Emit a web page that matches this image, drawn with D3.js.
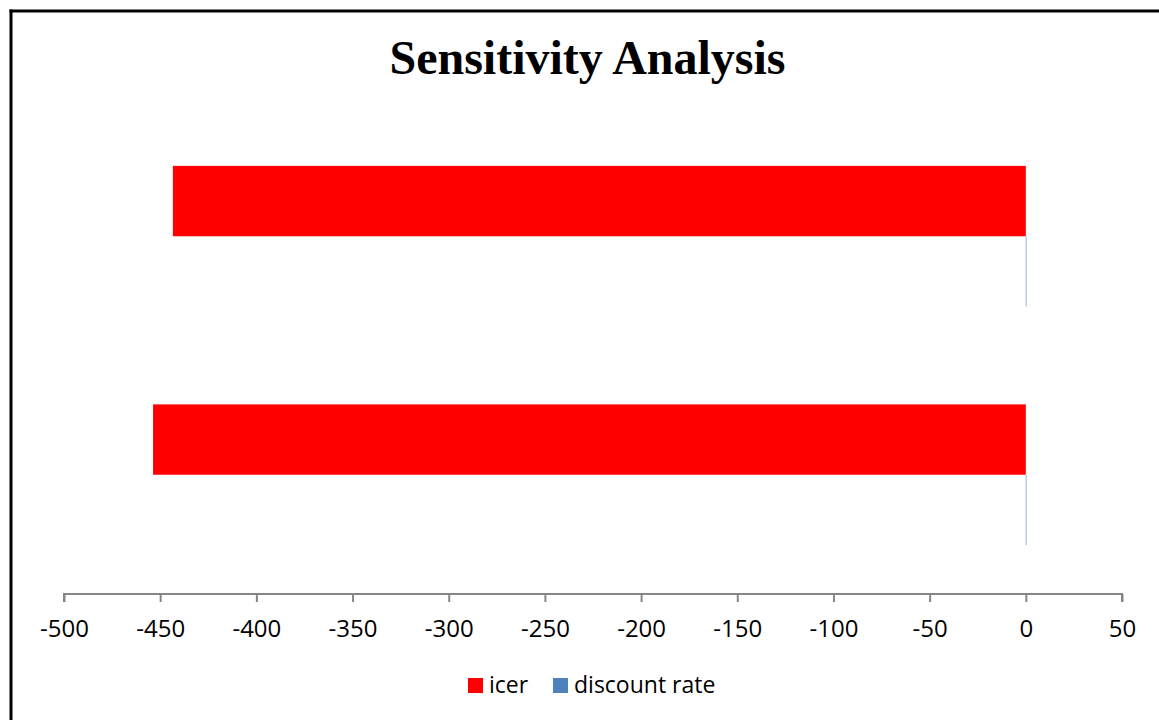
<!DOCTYPE html>
<html>
<head>
<meta charset="utf-8">
<script src="https://cdn.jsdelivr.net/npm/d3@7"></script>
<style>
  html, body { margin: 0; padding: 0; background: #fff; }
  svg { display: block; }
</style>
</head>
<body>
<svg id="chart" width="1159" height="720"></svg>
<script>
// ---- data ----
const categories = ["1", "2"];            // bottom to top as drawn
const seriesNames = ["icer", "discount rate"];
const icerValues = [-453.7, -443.4];
const discountValues = [0.3, 0.3];
const tickValues = [-500, -450, -400, -350, -300, -250, -200, -150, -100, -50, 0, 50];
const titleText = "Sensitivity Analysis";
const colors = ["#FF0000", "#4F81BD"];

const svg = d3.select("#chart");

// frame
svg.append("line").attr("x1", 11).attr("x2", 11).attr("y1", 9.5).attr("y2", 720)
  .attr("stroke", "#000").attr("stroke-width", 3);
svg.append("line").attr("x1", 9.5).attr("x2", 1159).attr("y1", 11).attr("y2", 11)
  .attr("stroke", "#000").attr("stroke-width", 3);

// title
svg.append("text")
  .attr("x", 587.5).attr("y", 74)
  .attr("text-anchor", "middle")
  .attr("font-family", "'Liberation Serif', 'Times New Roman', serif")
  .attr("font-weight", "bold")
  .attr("font-size", 48)
  .attr("fill", "#000")
  .text(titleText);

// scales
const x = d3.scaleLinear().domain([-500, 50]).range([64, 1122]);
const y = d3.scaleBand().domain(categories.slice().reverse()).range([117, 594])
  .paddingInner(0.41).paddingOuter(0.205);
const ySub = d3.scaleBand().domain(seriesNames).range([0, y.bandwidth()]);

const rows = categories.map((c, i) => ({ cat: c, vals: [icerValues[i], discountValues[i]] }));

const g = svg.append("g");
rows.forEach(r => {
  r.vals.forEach((v, si) => {
    g.append("rect")
      .attr("x", x(Math.min(0, v)))
      .attr("width", Math.abs(x(v) - x(0)))
      .attr("y", y(r.cat) + ySub(seriesNames[si]))
      .attr("height", ySub.bandwidth())
      .attr("fill", colors[si]);
  });
});

// axis
const axisY = 594;
const axis = d3.axisBottom(x).tickValues(tickValues).tickSize(8).tickPadding(18)
  .tickFormat(d3.format("d"));
const ag = svg.append("g").attr("transform", `translate(0,${axisY})`).call(axis);
ag.select(".domain").attr("stroke", "#868686").attr("stroke-width", 2)
  .attr("d", `M${x(-500)},8V0H${x(50)}V8`);
ag.selectAll(".tick line").attr("stroke", "#868686").attr("stroke-width", 2);
ag.selectAll(".tick text")
  .attr("font-family", "'Open Sans', 'Noto Sans', sans-serif")
  .attr("font-size", 24)
  .attr("fill", "#000")
  .text(d => d < 0 ? "-" + Math.abs(d) : d);

// legend
const legend = svg.append("g");
const legendItems = [
  { name: seriesNames[0], sx: 468, tx: 489 },
  { name: seriesNames[1], sx: 553, tx: 574 }
];
legendItems.forEach((it, i) => {
  legend.append("rect").attr("x", it.sx).attr("y", 678).attr("width", 15).attr("height", 15)
    .attr("fill", colors[i]);
  legend.append("text").attr("x", it.tx).attr("y", 693)
    .attr("font-family", "'Open Sans', 'Noto Sans', sans-serif")
    .attr("font-size", 23).attr("fill", "#000")
    .text(it.name);
});
</script>
</body>
</html>
